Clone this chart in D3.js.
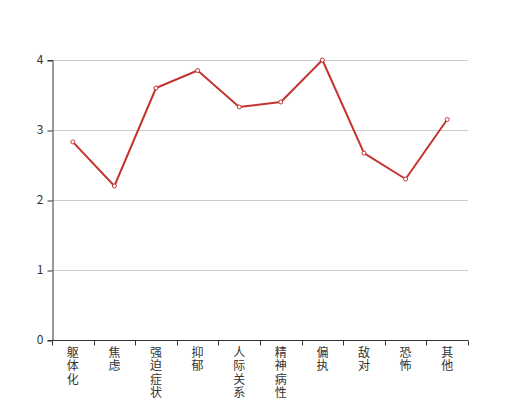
<!DOCTYPE html>
<html><head><meta charset="utf-8">
<script src="https://cdn.jsdelivr.net/npm/d3@7/dist/d3.min.js"></script>
<style>body{margin:0;background:#fff;}svg{display:block;font-family:"Noto Sans CJK SC",sans-serif;}</style>
</head><body><svg id="c" width="520" height="400"></svg>
<script>
const categories = ["躯体化","焦虑","强迫症状","抑郁","人际关系敏感","精神病性","偏执","敌对","恐怖","其他"];
const values = [2.83, 2.2, 3.6, 3.85, 3.33, 3.4, 4.0, 2.67, 2.3, 3.15];
const yTicks = [0, 1, 2, 3, 4];

const svg = d3.select("#c");
const m = {l:52, r:52, t:60, b:60};
const W = 520, H = 400;
const x = d3.scaleBand().domain(categories).range([m.l, W - m.r]);
const y = d3.scaleLinear().domain([0, 4]).range([H - m.b, m.t]);

// grid
svg.append("g").selectAll("line").data(yTicks.filter(d => d > 0)).join("line")
  .attr("x1", m.l).attr("x2", W - m.r)
  .attr("y1", d => y(d) + 0.5).attr("y2", d => y(d) + 0.5)
  .attr("stroke", "#ccc").attr("stroke-width", 1);

// y axis
const ya = svg.append("g").attr("transform", `translate(${m.l + 0.5},0)`)
  .call(d3.axisLeft(y).tickValues(yTicks).tickSize(5).tickPadding(4).tickFormat(d3.format("d")));
ya.select(".domain").attr("stroke", "#333");
ya.selectAll(".tick line").attr("stroke", "#333").attr("transform", "translate(0,0.5)");
ya.selectAll(".tick text").attr("fill", "#333").attr("font-size", 12)
  .attr("font-family", '"Noto Sans CJK SC",sans-serif');

// x axis
const xa = svg.append("g").attr("transform", `translate(0,${H - m.b + 0.5})`);
xa.append("line").attr("x1", m.l).attr("x2", W - m.r).attr("stroke", "#333");
const bounds = categories.map(c => x(c)).concat([x(categories[categories.length-1]) + x.bandwidth()]);
xa.selectAll("line.tk").data(bounds).join("line").attr("class", "tk")
  .attr("x1", d => Math.round(d) + 0.5).attr("x2", d => Math.round(d) + 0.5)
  .attr("y1", 0).attr("y2", 5).attr("stroke", "#333");
const lbl = xa.selectAll("text").data(categories).join("text")
  .attr("text-anchor", "middle").attr("fill", "#333").attr("font-size", 12)
  .attr("x", d => x(d) + x.bandwidth() / 2);
lbl.each(function(d) {
  const t = d3.select(this);
  Array.from(d).forEach((ch, i) => {
    t.append("tspan").attr("x", x(d) + x.bandwidth() / 2).attr("y", 16 + i * 13.5).text(ch);
  });
});

// line
const line = d3.line().x((d, i) => x(categories[i]) + x.bandwidth() / 2).y(d => y(d));
svg.append("path").datum(values).attr("d", line)
  .attr("fill", "none").attr("stroke", "#c23531").attr("stroke-width", 2).attr("stroke-linejoin", "bevel");
svg.append("g").selectAll("circle").data(values).join("circle")
  .attr("cx", (d, i) => x(categories[i]) + x.bandwidth() / 2).attr("cy", d => y(d))
  .attr("r", 2).attr("fill", "#fff").attr("stroke", "#c23531").attr("stroke-width", 1);
</script></body></html>
